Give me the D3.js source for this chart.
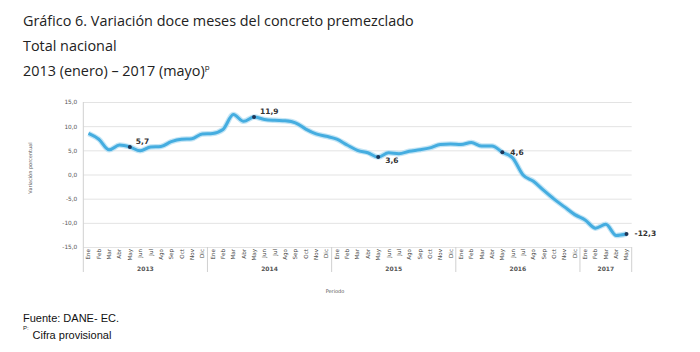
<!DOCTYPE html>
<html>
<head>
<meta charset="utf-8">
<script src="https://cdn.jsdelivr.net/npm/d3@7"></script>
<style>
  html, body { margin: 0; padding: 0; background: #fff; }
  svg { display: block; }
</style>
</head>
<body>
<svg id="chart" width="700" height="352"></svg>
<script>
// ---- Data ----
const monthNames = ["Ene","Feb","Mar","Abr","May","Jun","Jul","Ago","Sep","Oct","Nov","Dic"];
const years = ["2013","2014","2015","2016","2017"];
const monthsPerYear = [12, 12, 12, 12, 5];
const values = [
  8.5, 7.3, 5.1, 6.1, 5.7, 4.9, 5.7, 5.8, 6.8, 7.3, 7.4, 8.4,
  8.5, 9.3, 12.4, 11.0, 11.9, 11.4, 11.2, 11.1, 10.7, 9.4, 8.4, 7.9,
  7.3, 6.1, 5.0, 4.5, 3.6, 4.5, 4.3, 4.8, 5.1, 5.5, 6.2, 6.3,
  6.2, 6.6, 5.9, 5.9, 4.6, 3.4, -0.1, -1.4, -3.3, -5.1, -6.7, -8.3,
  -9.4, -11.1, -10.3, -12.6, -12.3
];
const yTicks = [-15, -10, -5, 0, 5, 10, 15];
const highlights = [4, 16, 28, 40, 52]; // indices of labelled points
const labelSide = ["ru", "ru", "rd", "r", "r"];

(function () {
// ---- Build period list ----
const periods = [];
years.forEach((yr, yi) => {
  for (let m = 0; m < monthsPerYear[yi]; m++) {
    periods.push({ id: yr + "-" + m, year: yr, month: monthNames[m] });
  }
});
const data = periods.map((p, i) => ({ ...p, value: values[i], i }));

const locale = d3.formatLocale({ decimal: ",", thousands: ".", grouping: [3], currency: ["$", ""], minus: "-" });
const fmt1 = locale.format(".1f");

const svg = d3.select("#chart");

// Titles
const title = svg.append("g").attr("font-family", "'Open Sans', sans-serif").attr("fill", "#222");
title.append("text").attr("x", 23).attr("y", 26).attr("font-size", 14.4).text("Gráfico 6. Variación doce meses del concreto premezclado");
title.append("text").attr("x", 23).attr("y", 51).attr("font-size", 14.4).text("Total nacional");
const t3 = title.append("text").attr("x", 23).attr("y", 76).attr("font-size", 14.4);
t3.append("tspan").text("2013 (enero) – 2017 (mayo)");
t3.append("tspan").attr("font-size", 8).attr("dy", -6).text("p");

// Scales
const pLeft = 83.3, pRight = 631.7, pTop = 102, pBottom = 247;
const x = d3.scaleBand().domain(data.map(d => d.id)).range([pLeft, pRight]).padding(0);
const y = d3.scaleLinear().domain([-15, 15]).range([pBottom, pTop]);

// Gridlines + y axis
const yAxis = d3.axisLeft(y).tickValues(yTicks).tickSize(-(pRight - pLeft)).tickPadding(6).tickFormat(fmt1);
const gy = svg.append("g").attr("transform", `translate(${pLeft},0)`).call(yAxis);
gy.select(".domain").remove();
gy.selectAll(".tick line").attr("stroke", "#e3e3e3").attr("stroke-width", 1);
gy.selectAll(".tick text").attr("font-family", "'DejaVu Sans', sans-serif").attr("font-size", 5.8).attr("fill", "#555");

// Left axis line
svg.append("line").attr("x1", pLeft).attr("x2", pLeft).attr("y1", pTop).attr("y2", 272).attr("stroke", "#d0d0d0");

// X axis month labels (rotated)
const xAxis = d3.axisBottom(x).tickSize(0).tickPadding(0).tickFormat((d, i) => data[i].month);
const gx = svg.append("g").attr("transform", `translate(0,${pBottom + 2})`).call(xAxis);
gx.select(".domain").remove();
gx.selectAll(".tick text")
  .attr("transform", "rotate(-90)")
  .attr("text-anchor", "end")
  .attr("x", 0).attr("y", 0).attr("dy", "0.35em")
  .attr("font-family", "'DejaVu Sans', sans-serif").attr("font-size", 5.6).attr("fill", "#444");

// Year separators and labels
let start = 0;
const sepXs = [];
years.forEach((yr, yi) => {
  const n = monthsPerYear[yi];
  const x0 = x(data[start].id);
  const x1 = x(data[start + n - 1].id) + x.bandwidth();
  sepXs.push(x1);
  svg.append("text")
    .attr("x", (x0 + x1) / 2).attr("y", 271)
    .attr("text-anchor", "middle")
    .attr("font-family", "'DejaVu Sans', sans-serif").attr("font-size", 6).attr("font-weight", "bold")
    .attr("fill", "#555").text(yr);
  start += n;
});
svg.selectAll("line.sep").data(sepXs).enter().append("line").attr("class", "sep")
  .attr("x1", d => d).attr("x2", d => d).attr("y1", pBottom).attr("y2", 272)
  .attr("stroke", "#d0d0d0");

// Axis titles
svg.append("text").attr("x", 335).attr("y", 293).attr("text-anchor", "middle")
  .attr("font-family", "'DejaVu Sans', sans-serif").attr("font-size", 5).attr("fill", "#555").text("Periodo");
svg.append("text").attr("transform", "translate(32,168) rotate(-90)").attr("text-anchor", "middle")
  .attr("font-family", "'DejaVu Sans', sans-serif").attr("font-size", 5).attr("fill", "#555").text("Variación porcentual");

// Line
const cx = d => x(d.id) + x.bandwidth() / 2;
const line = d3.line().x(cx).y(d => y(d.value)).curve(d3.curveMonotoneX);
svg.append("path").datum(data).attr("d", line).attr("fill", "none")
  .attr("stroke", "#b5dff2").attr("stroke-width", 5.5).attr("stroke-linejoin", "round").attr("opacity", 0.8);
svg.append("path").datum(data).attr("d", line).attr("fill", "none")
  .attr("stroke", "#45ade0").attr("stroke-width", 3).attr("stroke-linejoin", "round");

// Highlight markers and labels
highlights.forEach((idx, k) => {
  const d = data[idx];
  const px = cx(d), py = y(d.value);
  svg.append("circle").attr("cx", px).attr("cy", py).attr("r", 2).attr("fill", "#1d3557");
  let lx = px + 6, ly = py - 3;
  if (labelSide[k] === "rd") { lx = px + 7; ly = py + 6; }
  if (labelSide[k] === "r") { lx = px + 8; ly = py + 2.5; }
  svg.append("text").attr("x", lx).attr("y", ly)
    .attr("font-family", "'DejaVu Sans', sans-serif").attr("font-size", 7.5).attr("font-weight", "bold")
    .attr("fill", "#333").text(fmt1(d.value));
});

// Footer
const foot = svg.append("g").attr("font-family", "'Liberation Sans', Arial, sans-serif").attr("fill", "#111");
foot.append("text").attr("x", 23).attr("y", 322).attr("font-size", 11).text("Fuente: DANE- EC.");
foot.append("text").attr("x", 23).attr("y", 330).attr("font-size", 6).text("P:");
foot.append("text").attr("x", 32.5).attr("y", 339).attr("font-size", 11).text("Cifra provisional");
})();
</script>
</body>
</html>
